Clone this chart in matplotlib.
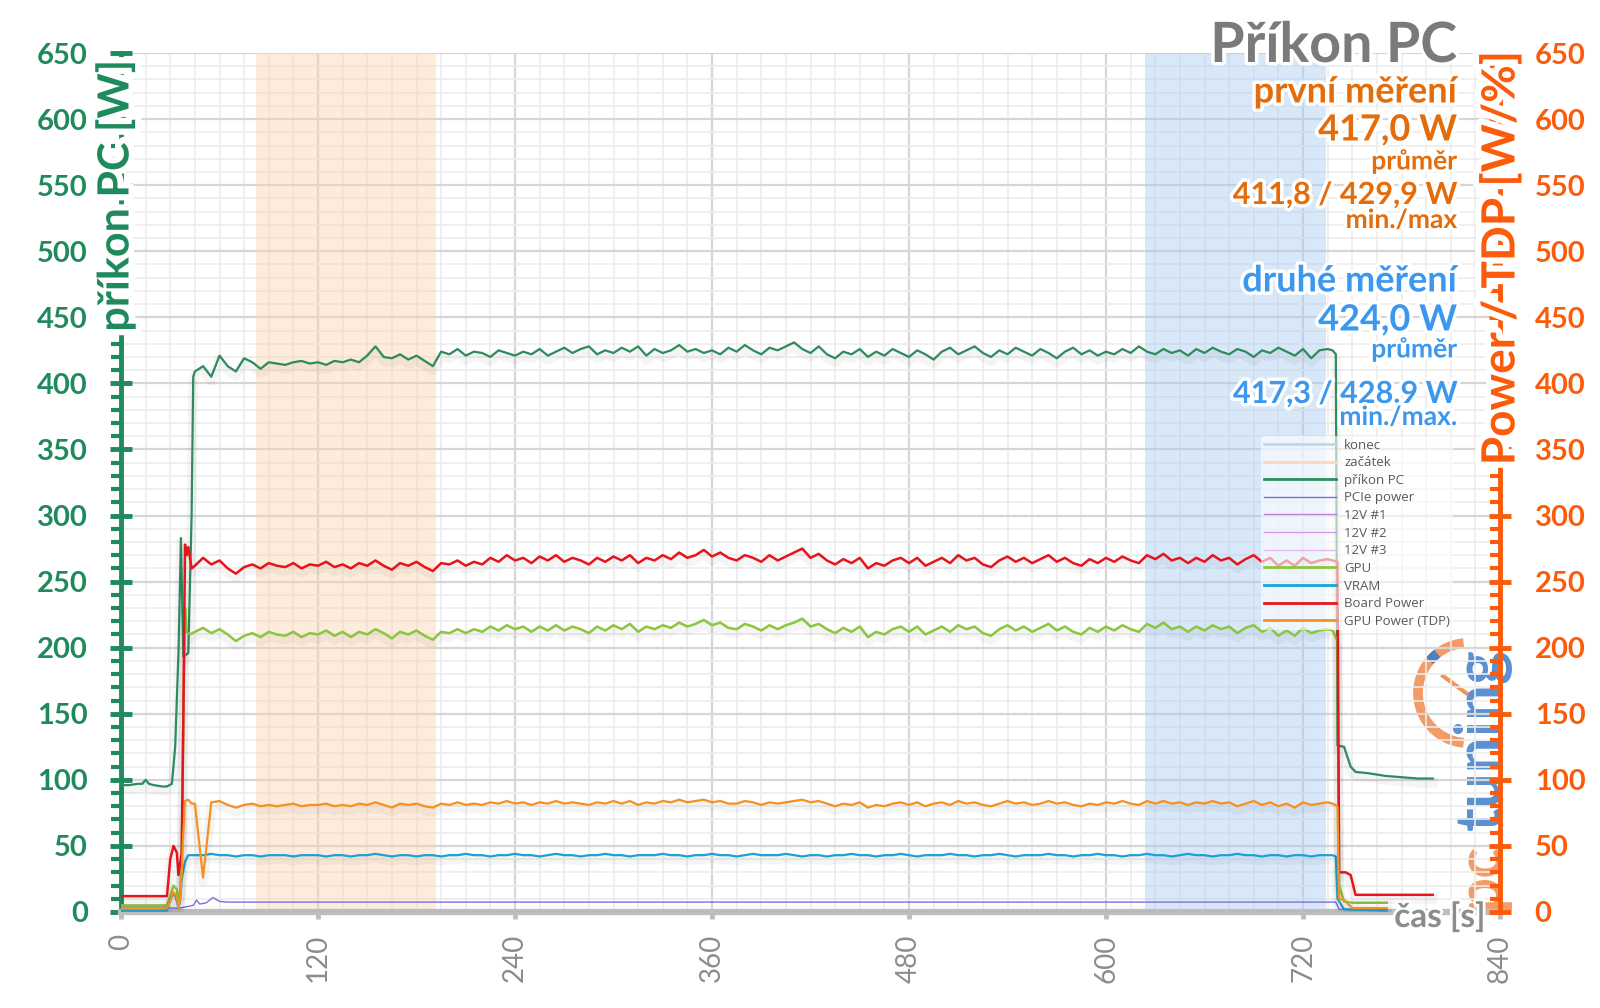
import numpy as np
import matplotlib
matplotlib.use("Agg")
import matplotlib.pyplot as plt
import matplotlib.patheffects as pe
from matplotlib.lines import Line2D
from matplotlib.patches import Arc
from matplotlib.transforms import IdentityTransform

plt.rcParams['font.family'] = ['Lato', 'DejaVu Sans']

# ---------------- data ----------------
x_ticks = [0, 120, 240, 360, 480, 600, 720, 840]
y_ticks = [0, 50, 100, 150, 200, 250, 300, 350, 400, 450, 500, 550, 600, 650]
span_start = [82, 192]     # "začátek"
span_end = [624, 734]      # "konec"

plateau_t0, plateau_t1 = 45, 735

# příkon PC (dark green)
pc_head_t = [0, 5, 10, 13, 15, 17, 20, 25, 28, 31, 33, 35, 36.5, 38, 41, 43, 44]
pc_head_v = [96, 96, 97, 97, 100, 97, 96, 95, 95, 97, 125, 196, 283, 193, 196, 300, 405]
pc_plateau = [409, 413, 405, 421, 413, 409, 419, 416, 411, 416, 415, 414, 416, 417, 415, 416, 414, 417,
              416, 418, 416, 421, 428, 420, 419, 422, 418, 421, 417, 413, 424, 422, 426, 421, 424, 423,
              420, 425, 423, 421, 424, 422, 426, 421, 424, 427, 423, 426, 428, 422, 425, 423, 427, 424,
              428, 421, 426, 423, 425, 429, 424, 426, 423, 425, 422, 427, 424, 429, 425, 422, 427, 425,
              428, 431, 426, 423, 428, 422, 419, 424, 422, 426, 420, 424, 421, 426, 423, 420, 425, 422,
              418, 424, 427, 422, 425, 428, 423, 420, 425, 422, 427, 424, 421, 426, 423, 419, 424, 427,
              422, 425, 421, 424, 422, 426, 423, 428, 424, 422, 426, 423, 425, 421, 426, 423, 427, 424,
              422, 426, 424, 420, 425, 423, 427, 424, 421, 426, 419, 425, 426]
pc_tail_t = [738, 740, 741, 745, 749, 752, 760, 770, 780, 790, 799]
pc_tail_v = [425, 422, 126, 125, 110, 106, 105, 103, 102, 101, 101]

# Board Power (red)
bp_head_t = [0, 28, 30, 32, 34, 35, 37, 38, 39, 40, 41, 43]
bp_head_v = [12, 12, 40, 50, 45, 28, 45, 150, 278, 270, 276, 260]
bp_plateau = [262, 268, 263, 266, 260, 256, 261, 263, 260, 264, 262, 261, 264, 260, 263, 262, 265, 261,
              263, 260, 264, 262, 266, 262, 259, 264, 262, 265, 261, 258, 264, 263, 266, 262, 265, 263,
              268, 265, 270, 266, 268, 264, 269, 266, 270, 265, 268, 266, 263, 268, 265, 269, 266, 270,
              264, 268, 266, 270, 267, 272, 268, 270, 274, 269, 272, 268, 266, 270, 268, 265, 270, 266,
              269, 272, 275, 268, 271, 266, 263, 267, 264, 268, 260, 264, 262, 266, 268, 264, 268, 262,
              265, 268, 264, 270, 266, 268, 263, 261, 266, 269, 265, 268, 264, 267, 270, 265, 268, 264,
              262, 267, 264, 268, 265, 269, 266, 264, 270, 267, 271, 266, 268, 264, 268, 265, 270, 266,
              268, 263, 267, 270, 265, 268, 262, 266, 262, 268, 264, 266, 267]
bp_tail_t = [738, 741, 742, 746, 749, 752, 799]
bp_tail_v = [266, 265, 30, 30, 28, 13, 13]

# GPU (yellow-green)
gpu_head_t = [0, 28, 30, 32, 34, 35, 36, 37, 38, 39, 40, 42]
gpu_head_v = [5, 5, 12, 20, 17, 8, 15, 40, 150, 230, 212, 210]
gpu_plateau = [212, 215, 211, 214, 210, 205, 209, 211, 208, 212, 210, 209, 212, 208, 211, 210, 213, 209,
               212, 208, 212, 210, 214, 211, 207, 212, 210, 213, 209, 206, 212, 211, 214, 211, 214, 212,
               216, 213, 217, 214, 216, 212, 216, 213, 217, 213, 216, 214, 211, 216, 213, 217, 214, 218,
               212, 216, 214, 217, 215, 219, 216, 218, 221, 217, 219, 215, 214, 218, 216, 213, 217, 214,
               217, 219, 222, 216, 218, 214, 211, 215, 212, 216, 208, 212, 210, 214, 216, 212, 216, 210,
               213, 216, 212, 217, 214, 216, 211, 209, 214, 217, 213, 216, 212, 215, 218, 213, 216, 212,
               210, 215, 212, 216, 213, 217, 214, 212, 218, 215, 219, 214, 216, 212, 216, 213, 217, 214,
               216, 211, 215, 217, 212, 215, 209, 213, 209, 215, 211, 213, 214]
gpu_tail_t = [738, 741, 742, 745, 750, 771]
gpu_tail_v = [213, 205, 20, 8, 7, 7]

# GPU Power (TDP) (orange)
tdp_head_t = [0, 28, 30, 32, 34, 35, 36, 37, 38, 39, 41, 43]
tdp_head_v = [3, 3, 8, 15, 12, 3, 10, 30, 60, 84, 85, 82]
tdp_plateau = [82, 26, 83, 84, 81, 79, 81, 82, 80, 81, 80, 81, 82, 80, 81, 81, 82, 80, 81, 80, 82, 81,
               83, 81, 79, 82, 81, 82, 80, 79, 82, 81, 83, 81, 82, 81, 83, 82, 84, 82, 83, 81, 83, 82,
               84, 82, 83, 82, 81, 83, 82, 84, 82, 84, 81, 83, 82, 84, 83, 85, 83, 84, 85, 83, 84, 82,
               82, 84, 83, 81, 83, 82, 83, 84, 85, 83, 84, 82, 80, 82, 81, 83, 79, 81, 80, 82, 83, 81,
               83, 80, 82, 83, 81, 84, 82, 83, 81, 80, 82, 84, 82, 83, 81, 82, 84, 82, 83, 81, 80, 82,
               81, 83, 82, 84, 82, 81, 84, 82, 84, 82, 83, 81, 83, 82, 84, 82, 83, 80, 82, 84, 81, 83,
               80, 82, 79, 83, 81, 82, 83]
tdp_tail_t = [738, 741, 742, 745, 750, 771]
tdp_tail_v = [82, 80, 10, 9, 3, 3]

# VRAM (cyan-blue)
vram_head_t = [0, 28, 29, 31, 33, 35, 36, 37, 39, 41, 43]
vram_head_v = [1, 1, 5, 12, 13, 3, 8, 25, 38, 43, 43]
vram_plateau = [43, 43, 44, 43, 43, 42, 43, 43, 42, 43, 43, 43, 42, 43, 43, 43, 42, 43, 43, 42, 43, 43,
                44, 43, 42, 43, 43, 42, 43, 43, 42, 43, 43, 44, 43, 43, 42, 43, 43, 44, 43, 43, 42, 43,
                44, 43, 43, 42, 43, 43, 44, 43, 43, 42, 43, 43, 43, 44, 43, 43, 42, 43, 43, 44, 43, 43,
                42, 43, 44, 43, 43, 43, 44, 43, 42, 43, 43, 42, 43, 43, 44, 43, 43, 42, 43, 43, 44, 43,
                42, 43, 43, 43, 44, 43, 43, 42, 43, 43, 44, 43, 42, 43, 43, 43, 44, 43, 43, 42, 43, 43,
                44, 43, 43, 42, 43, 43, 44, 43, 43, 42, 43, 44, 43, 43, 42, 43, 43, 44, 43, 43, 42, 43,
                43, 42, 43, 43, 42, 43, 43]
vram_tail_t = [738, 740, 741, 745, 771]
vram_tail_v = [43, 42, 10, 2, 1]

# PCIe power (purple)
pcie_t = [0, 28, 30, 36, 40, 44, 46, 48, 52, 56, 60, 65, 150, 300, 450, 600, 740, 742, 771]
pcie_v = [4, 4, 3, 3, 4, 5, 9, 6, 7, 11, 8, 7.5, 7.5, 7.5, 7.5, 7.5, 7.5, 2, 2]

# 12V rails (not loaded -> zero)
v12_t = [0, 771]
v12_1 = [0, 0]
v12_2 = [0, 0]
v12_3 = [0, 0]

legend_labels = ["konec", "začátek", "příkon PC", "PCIe power", "12V #1", "12V #2", "12V #3",
                 "GPU", "VRAM", "Board Power", "GPU Power (TDP)"]

title_lines = ["Příkon PC", "první měření", "417,0 W", "průměr", "411,8 / 429,9 W", "min./max",
               "druhé měření", "424,0 W", "průměr", "417,3 / 428,9 W", "min./max."]


def build(head_t, head_v, plateau, tail_t, tail_v):
    pt = np.linspace(plateau_t0, plateau_t1, len(plateau))
    t = np.concatenate([head_t, pt, tail_t])
    v = np.concatenate([head_v, plateau, tail_v])
    return t, v


# ---------------- style ----------------
C_GREEN_AX = '#1f8a5b'
C_ORANGE_AX = '#fb5b0a'
C_GREY = '#8c8c8c'
C_PC = '#2e8b5e'
C_BP = '#e8141c'
C_GPU = '#8cc63f'
C_TDP = '#f7901e'
C_VRAM = '#1ba1d8'
C_PCIE = '#7b6ee0'
C_12V1 = '#c07ee0'
C_12V2 = '#d49be6'
C_12V3 = '#e6b8ee'
C_KONEC = '#bcd7f2'
C_ZAC = '#fbd9b8'
T_ORANGE = '#e46c0a'
T_BLUE = '#3b98ee'

W, H = 1600, 1008
fig = plt.figure(figsize=(W / 100, H / 100), dpi=100)
fig.patch.set_facecolor('white')

L, R, B, T = 121, 1500, 912, 53
ax = fig.add_axes([L / W, 1 - B / H, (R - L) / W, (B - T) / H])
ax.set_facecolor('none')
ax.set_zorder(2)
ax.set_xlim(0, 840)
ax.set_ylim(0, 650)

ax.set_xticks(x_ticks)
ax.set_xticks(np.arange(0, 841, 15), minor=True)
ax.set_yticks(y_ticks)
ax.set_yticks(np.arange(0, 651, 10), minor=True)
ax.set_axisbelow(True)
ax.grid(which='major', color='#d6d6d6', lw=1.6)
ax.grid(which='minor', color='#ececec', lw=1.2)

for s in ['top', 'right']:
    ax.spines[s].set_visible(False)
ax.spines['left'].set_color(C_GREEN_AX)
ax.spines['left'].set_linewidth(3.5)
ax.spines['bottom'].set_color('#bdbdbd')
ax.spines['bottom'].set_linewidth(4.5)

ax.tick_params(axis='y', which='major', direction='inout', length=16, width=3.5,
               color=C_GREEN_AX, labelcolor=C_GREEN_AX, labelsize=21, pad=16)
ax.tick_params(axis='y', which='minor', direction='out', length=7, width=3, color=C_GREEN_AX)
ax.tick_params(axis='x', which='major', direction='out', length=5, width=3.5,
               color='#bdbdbd', labelcolor=C_GREY, labelsize=20, pad=11, labelrotation=90)
ax.tick_params(axis='x', which='minor', length=0)
plt.setp(ax.get_yticklabels(), fontweight='bold')

ax2 = ax.twinx()
ax2.set_ylim(0, 650)
ax2.set_yticks(y_ticks)
ax2.set_yticks(np.arange(0, 651, 10), minor=True)
for s in ['top', 'left', 'bottom']:
    ax2.spines[s].set_visible(False)
ax2.spines['right'].set_color(C_ORANGE_AX)
ax2.spines['right'].set_linewidth(3.5)
ax2.tick_params(axis='y', which='major', direction='inout', length=16, width=3.5,
                color=C_ORANGE_AX, labelcolor=C_ORANGE_AX, labelsize=21, pad=17)
ax2.tick_params(axis='y', which='minor', direction='in', length=7, width=3, color=C_ORANGE_AX)
plt.setp(ax2.get_yticklabels(), fontweight='bold')

# spans
ax.axvspan(span_start[0], span_start[1], color='#fbd3b0', alpha=0.45, lw=0, zorder=0.6)
ax.axvspan(span_end[0], span_end[1], color='#a9cdf3', alpha=0.45, lw=0, zorder=0.6)

shadow = [pe.SimpleLineShadow(offset=(0, -3), shadow_color='black', alpha=0.04, linewidth=7), pe.Normal()]

t, v = build(pc_head_t, pc_head_v, pc_plateau, pc_tail_t, pc_tail_v)
ax.plot(t, v, color=C_PC, lw=1.6, zorder=3, path_effects=shadow)
ax.plot(pcie_t, pcie_v, color=C_PCIE, lw=1.0, zorder=3)
ax.plot(v12_t, v12_1, color=C_12V1, lw=1.0, zorder=3)
ax.plot(v12_t, v12_2, color=C_12V2, lw=1.0, zorder=3)
ax.plot(v12_t, v12_3, color=C_12V3, lw=1.0, zorder=3)
t, v = build(gpu_head_t, gpu_head_v, gpu_plateau, gpu_tail_t, gpu_tail_v)
ax.plot(t, v, color=C_GPU, lw=1.8, zorder=3, path_effects=shadow)
t, v = build(vram_head_t, vram_head_v, vram_plateau, vram_tail_t, vram_tail_v)
ax.plot(t, v, color=C_VRAM, lw=1.6, zorder=3, path_effects=shadow)
t, v = build(bp_head_t, bp_head_v, bp_plateau, bp_tail_t, bp_tail_v)
ax.plot(t, v, color=C_BP, lw=1.8, zorder=3.1, path_effects=shadow)
t, v = build(tdp_head_t, tdp_head_v, tdp_plateau, tdp_tail_t, tdp_tail_v)
ax.plot(t, v, color=C_TDP, lw=1.6, zorder=3.2, path_effects=shadow)

# legend
handles = [Line2D([], [], color=C_KONEC, lw=2), Line2D([], [], color=C_ZAC, lw=2),
           Line2D([], [], color=C_PC, lw=2), Line2D([], [], color=C_PCIE, lw=1),
           Line2D([], [], color=C_12V1, lw=1), Line2D([], [], color=C_12V2, lw=1),
           Line2D([], [], color=C_12V3, lw=1), Line2D([], [], color=C_GPU, lw=2),
           Line2D([], [], color=C_VRAM, lw=2), Line2D([], [], color=C_BP, lw=2),
           Line2D([], [], color=C_TDP, lw=2)]
leg = ax.legend(handles, legend_labels, loc='upper left',
                bbox_to_anchor=((1261 - L) / (R - L), (B - 436) / (B - T)),
                frameon=True, framealpha=0.6, facecolor='white', edgecolor='none',
                handlelength=5.5, handletextpad=0.6, labelspacing=0.35, borderpad=0.2,
                borderaxespad=0, prop={'size': 9.5, 'family': ['Open Sans', 'DejaVu Sans']},
                labelcolor='#595959')
leg.set_zorder(5)

glow = [pe.withStroke(linewidth=5, foreground='white')]
big_glow = [pe.withStroke(linewidth=9, foreground='white')]

# title block
xr = 1457 / W
specs = [(46, 40, '#7a7a7a'), (92, 26, T_ORANGE), (130, 26, T_ORANGE), (161, 19, T_ORANGE),
         (195, 22, T_ORANGE), (220, 19, T_ORANGE), (281, 26, T_BLUE), (320, 26, T_BLUE),
         (349, 19, T_BLUE), (394, 22, T_BLUE), (417, 19, T_BLUE)]
for txt, (yp, sz, col) in zip(title_lines, specs):
    fig.text(xr, 1 - yp / H, txt, ha='right', va='center', fontsize=sz, fontweight='bold',
             color=col, path_effects=glow, zorder=10)

# axis labels
fig.text(115 / W, 1 - 196 / H, 'příkon PC [W]', rotation=90, ha='center', va='center',
         fontsize=31, fontweight='bold', color=C_GREEN_AX, path_effects=big_glow, zorder=10)
fig.text(1501 / W, 1 - 258 / H, 'Power / TDP [W/%]', rotation=90, ha='center', va='center',
         fontsize=33, fontweight='bold', color=C_ORANGE_AX, path_effects=big_glow, zorder=10)
fig.text(1440 / W, 1 - 917 / H, 'čas [s]', ha='center', va='center',
         fontsize=24, fontweight='bold', color=C_GREY,
         path_effects=[pe.withStroke(linewidth=4, foreground='white')], zorder=10)

# logo (pctuning)
LOGO_O = '#f08a4b'
LOGO_B = '#3d7cc9'
fig.text(1481 / W, 1 - 910 / H, 'pc', rotation=90, ha='center', va='bottom', fontsize=46,
         fontweight='bold', color=LOGO_O, alpha=0.85, zorder=1)
fig.text(1481 / W, 1 - 830 / H, 'tuning', rotation=90, ha='center', va='bottom', fontsize=46,
         fontweight='bold', color=LOGO_B, alpha=0.85, zorder=1)
arc = Arc((1468, H - 693), 100, 100, theta1=95, theta2=265, lw=7, color=LOGO_O, alpha=0.85,
          transform=IdentityTransform(), zorder=1)
fig.add_artist(arc)
arc2 = Arc((1468, H - 693), 100, 100, theta1=128, theta2=140, lw=7, color=LOGO_B, alpha=0.9,
           transform=IdentityTransform(), zorder=1)
fig.add_artist(arc2)
fig.add_artist(Line2D([1443, 1466], [H - 676, H - 693], color=LOGO_O, lw=3, alpha=0.9,
                      transform=IdentityTransform(), zorder=1))

fig.savefig('out.png', dpi=100)
